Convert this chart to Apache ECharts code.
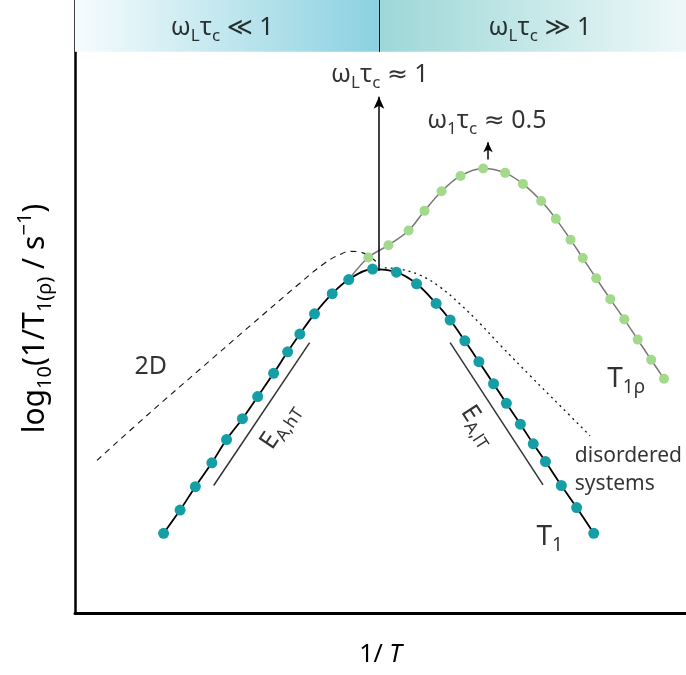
<!DOCTYPE html>
<html>
<head>
<meta charset="utf-8">
<script src="https://cdn.jsdelivr.net/npm/echarts@6/dist/echarts.min.js"></script>
<style>
  html, body { margin: 0; padding: 0; background: #fff; }
  #chart { width: 686px; height: 675px; }
</style>
</head>
<body>
<div id="chart"></div>
<script>
// Relaxation rates vs inverse temperature (arbitrary units on both axes)
const t1Points = [
  [1.45, 1.30], [1.72, 1.68], [1.97, 2.06], [2.24, 2.45], [2.48, 2.83],
  [2.74, 3.17], [2.99, 3.53], [3.25, 3.91], [3.48, 4.26], [3.68, 4.55],
  [3.92, 4.88], [4.21, 5.21], [4.48, 5.44], [4.87, 5.61], [5.26, 5.56],
  [5.59, 5.37], [5.91, 5.05], [6.14, 4.78], [6.38, 4.44], [6.61, 4.10],
  [6.85, 3.74], [7.06, 3.42], [7.29, 3.08], [7.50, 2.76], [7.70, 2.47],
  [7.96, 2.08], [8.21, 1.72], [8.49, 1.30]
];
// the T1rho branch splits off the T1 curve at its first point
const t1rhoStart = [4.48, 5.44];
const t1rhoPoints = [
  [4.80, 5.80], [5.13, 6.00], [5.46, 6.24], [5.72, 6.56], [6.00, 6.88],
  [6.31, 7.13], [6.68, 7.25], [7.04, 7.18], [7.33, 7.00], [7.63, 6.72],
  [7.87, 6.43], [8.11, 6.09], [8.31, 5.79], [8.53, 5.46], [8.76, 5.12],
  [8.99, 4.79], [9.21, 4.46], [9.43, 4.13], [9.64, 3.82]
];
const twoDCurve = [
  [0.36, 2.49], [1.23, 3.27], [2.05, 3.98], [2.86, 4.68], [3.68, 5.38],
  [4.09, 5.71], [4.34, 5.85], [4.50, 5.90], [4.66, 5.89], [4.83, 5.81],
  [4.99, 5.68]
];
const disorderedCurve = [
  [5.07, 5.63], [5.32, 5.61], [5.65, 5.51], [5.97, 5.32], [6.30, 5.04],
  [6.63, 4.72], [6.96, 4.37], [7.45, 3.87], [7.94, 3.38], [8.43, 2.89]
];
const slopeHighT = [[2.27, 2.08], [3.84, 4.41]];
const slopeLowT = [[6.14, 4.41], [7.66, 2.09]];
const resonanceArrow = [[4.975, 5.58], [4.975, 8.42]];
const spinLockArrow = [[6.76, 7.40], [6.76, 7.68]];
const regimeSplit = 4.975;
const bandRange = [9.154, 10];
const xRange = [0, 10];
const yRange = [0, 10];

const annotationTexts = [
  'ω{s|L}τ{s|c} ≪ 1',
  'ω{s|L}τ{s|c} ≫ 1',
  'ω{s|L}τ{s|c} ≈ 1',
  'ω{s|1}τ{s|c} ≈ 0.5',
  '2D',
  'T{t|1}',
  'T{t|1ρ}',
  'disordered\nsystems'
];
const annotationPoints = [
  [2.41, 9.55], [7.61, 9.55], [4.99, 8.78], [6.74, 8.03],
  [1.24, 4.02], [7.77, 1.24], [9.02, 3.82], [8.18, 2.33]
];
const annotationSizes = [25, 25, 25, 25, 25, 28, 28, 21];

const FONT = "'Noto Sans', 'DejaVu Sans', sans-serif";
const INK = '#000';
const richText = {
  s: { fontSize: 17, lineHeight: 17, verticalAlign: 'bottom', fontFamily: FONT, color: INK },
  t: { fontSize: 19, lineHeight: 19, verticalAlign: 'bottom', fontFamily: FONT, color: INK }
};

const chart = echarts.init(document.getElementById('chart'), null, { renderer: 'canvas' });

const annotationData = annotationTexts.map((t, i) => {
  const size = annotationSizes[i];
  const multiLine = t.indexOf('\n') >= 0;
  return {
    value: annotationPoints[i],
    label: multiLine
      ? { formatter: t, fontSize: size, lineHeight: 28, align: 'left' }
      : { formatter: t, fontSize: size, lineHeight: size + 9 }
  };
});

chart.setOption({
  animation: false,
  backgroundColor: '#fff',
  grid: { left: 75, right: 0, top: 0, bottom: 60 },
  xAxis: {
    type: 'value', min: xRange[0], max: xRange[1],
    axisLine: { show: true, lineStyle: { color: '#000', width: 3 } },
    axisTick: { show: false }, axisLabel: { show: false }, splitLine: { show: false },
    name: '1/ {i|T}', nameLocation: 'middle', nameGap: 27,
    nameTextStyle: {
      fontFamily: FONT, fontSize: 25, lineHeight: 30, color: INK,
      rich: { i: { fontStyle: 'italic', fontSize: 25, fontFamily: FONT, color: INK } }
    }
  },
  yAxis: {
    type: 'value', min: yRange[0], max: yRange[1],
    axisLine: { show: true, lineStyle: { color: '#000', width: 2.5 } },
    axisTick: { show: false }, axisLabel: { show: false }, splitLine: { show: false },
    name: 'log{s|10}(1/T{s|1(ρ)} / s{p|−1})', nameLocation: 'middle', nameGap: 20, nameRotate: 90,
    nameTextStyle: {
      fontFamily: FONT, fontSize: 30, lineHeight: 40, color: INK, padding: [0, 24, 0, 0],
      rich: {
        s: { fontSize: 20, lineHeight: 20, verticalAlign: 'bottom', fontFamily: FONT, color: INK },
        p: { fontSize: 20, lineHeight: 20, verticalAlign: 'top', fontFamily: FONT, color: INK }
      }
    }
  },
  series: [
    {
      name: 'regimes', type: 'line', data: [], z: 0,
      markArea: {
        silent: true,
        label: { show: false },
        data: [
          [
            { coord: [xRange[0], bandRange[0]], itemStyle: { color: {
              type: 'linear', x: 0, y: 0, x2: 1, y2: 0,
              colorStops: [{ offset: 0, color: '#f6fcfd' }, { offset: 1, color: '#8bd1e0' }]
            } } },
            { coord: [regimeSplit, bandRange[1]] }
          ],
          [
            { coord: [regimeSplit, bandRange[0]], itemStyle: { color: {
              type: 'linear', x: 0, y: 0, x2: 1, y2: 0,
              colorStops: [{ offset: 0, color: '#9dd7d7' }, { offset: 1, color: '#eef8f9' }]
            } } },
            { coord: [xRange[1], bandRange[1]] }
          ]
        ]
      },
      markLine: {
        silent: true, symbol: 'none', label: { show: false },
        lineStyle: { color: '#111', width: 1, type: 'solid' },
        data: [[{ coord: [regimeSplit, bandRange[0]] }, { coord: [regimeSplit, bandRange[1]] }]]
      }
    },
    {
      name: '2D', type: 'line', data: twoDCurve, smooth: 0.4, showSymbol: false, z: 2,
      lineStyle: { color: '#111', width: 1.1, type: [6, 5] }
    },
    {
      name: 'disordered systems', type: 'line', data: disorderedCurve, smooth: 0.4, showSymbol: false, z: 2,
      lineStyle: { color: '#111', width: 1.3, type: [2, 4] }
    },
    {
      name: 'T1rho', type: 'line', smooth: 0.35, z: 3,
      data: [{ value: t1rhoStart, symbol: 'none' }].concat(t1rhoPoints),
      symbol: 'circle', symbolSize: 10, showAllSymbol: true,
      itemStyle: { color: '#a3d98b' },
      lineStyle: { color: '#777', width: 1.5 }
    },
    {
      name: 'T1', type: 'line', data: t1Points, smooth: 0.35, z: 4,
      symbol: 'circle', symbolSize: 11, showAllSymbol: true,
      itemStyle: { color: '#169ea6' },
      lineStyle: { color: '#000', width: 1.8 }
    },
    {
      name: 'guides', type: 'line', data: [], z: 5,
      markLine: {
        silent: true, symbol: 'none',
        lineStyle: { color: '#333', width: 1.5, type: 'solid' },
        label: {
          show: true, position: 'insideMiddleBottom', distance: 6,
          fontFamily: FONT, fontSize: 25, lineHeight: 32, color: '#333',
          rich: { s: { fontSize: 17, lineHeight: 17, verticalAlign: 'bottom', fontFamily: FONT, color: '#333' } }
        },
        data: [
          [{ coord: slopeHighT[0], label: { formatter: 'E{s|A,hT}' } }, { coord: slopeHighT[1] }],
          [{ coord: slopeLowT[0], label: { formatter: 'E{s|A,lT}' } }, { coord: slopeLowT[1] }]
        ]
      }
    },
    {
      name: 'arrows', type: 'line', data: [], z: 5,
      markLine: {
        silent: true, symbol: ['none', 'arrow'],
        label: { show: false },
        lineStyle: { color: '#000', width: 1.5, type: 'solid' },
        data: [
          [{ coord: resonanceArrow[0] }, { coord: resonanceArrow[1], symbolSize: [8, 12] }],
          [{ coord: spinLockArrow[0] }, { coord: spinLockArrow[1], symbolSize: [7, 10] }]
        ]
      }
    },
    {
      name: 'annotations', type: 'scatter', data: annotationData, z: 6,
      symbolSize: 0, silent: true,
      label: {
        show: true, position: 'inside',
        fontFamily: FONT, color: INK,
        rich: richText
      }
    }
  ]
});
</script>
</body>
</html>
